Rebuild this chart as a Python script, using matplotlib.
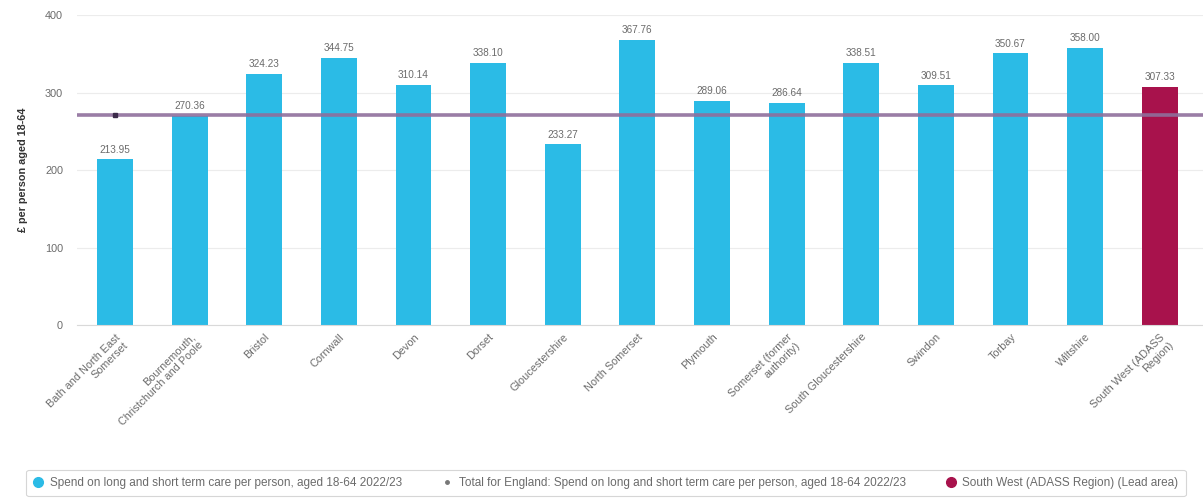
import matplotlib.pyplot as plt
import numpy as np

plt.rcParams['font.family'] = ['Liberation Sans', 'DejaVu Sans']

areas = ["Bath and North East\nSomerset", "Bournemouth,\nChristchurch and Poole", "Bristol",
         "Cornwall", "Devon", "Dorset", "Gloucestershire", "North Somerset", "Plymouth",
         "Somerset (former\nauthority)", "South Gloucestershire", "Swindon", "Torbay",
         "Wiltshire", "South West (ADASS\nRegion)"]
spend = [213.95, 270.36, 324.23, 344.75, 310.14, 338.10, 233.27, 367.76, 289.06,
         286.64, 338.51, 309.51, 350.67, 358.00, 307.33]
england_total = 270.6
lead_area = "South West (ADASS\nRegion)"

series_label = "Spend on long and short term care per person, aged 18-64 2022/23"
england_label = "Total for England: Spend on long and short term care per person, aged 18-64 2022/23"
lead_label = "South West (ADASS Region) (Lead area)"

blue = "#2bbbe6"
crimson = "#a8124c"
grey = "#6b6b6b"

fig = plt.figure(figsize=(12.03, 5.04), dpi=100)
ax = fig.add_axes([0.064, 0.355, 0.936, 0.615])

x = np.arange(len(areas))
colors = [crimson if a == lead_area else blue for a in areas]
bars = ax.bar(x, spend, width=0.48, color=colors, zorder=2)

for xi, v in zip(x, spend):
    ax.text(xi, v + 6, f"{v:.2f}", ha="center", va="bottom", fontsize=7.2, color=grey)

# England average drawn across the whole axis
ax.axhline(england_total, color="#8f6f9c", lw=2.6, alpha=0.9, zorder=3)
ax.plot([0], [england_total], marker="s", ms=2.5, color="#3b2a4a", zorder=4)

ax.set_ylim(0, 400)
ax.set_xlim(-0.51, 14.58)
ax.set_yticks([0, 100, 200, 300, 400])
ax.yaxis.grid(True, color="#ececec", lw=0.8)
ax.set_axisbelow(True)
for s in ["top", "right", "left"]:
    ax.spines[s].set_visible(False)
ax.spines["bottom"].set_color("#d9d9d9")
ax.tick_params(axis="y", length=0, labelsize=7.8, labelcolor=grey, pad=10)
ax.tick_params(axis="x", length=0, labelsize=7.8, labelcolor=grey, pad=5)
ax.set_xticks(x)
ax.set_xticklabels(areas, rotation=45, ha="right", rotation_mode="anchor")
ax.set_ylabel("£ per person aged 18-64", fontsize=7.8, fontweight="bold", color="#333333", labelpad=12)

# legend box along the bottom
handles = [
    plt.Line2D([], [], marker="o", ls="", color=blue, ms=7),
    plt.Line2D([], [], marker="o", ls="", color="#777777", ms=2.5),
    plt.Line2D([], [], marker="o", ls="", color=crimson, ms=7),
]
leg = fig.legend(handles, [series_label, england_label, lead_label], loc="lower center",
                 bbox_to_anchor=(606 / 1203, 0.004), ncol=3, fontsize=8.5, frameon=True,
                 handlelength=0.8, handletextpad=0.6, columnspacing=3.4,
                 borderpad=0.6, fancybox=True)
leg.get_frame().set_edgecolor("#cccccc")
leg.get_frame().set_linewidth(0.8)
for t in leg.get_texts():
    t.set_color(grey)

fig.savefig("out.png", dpi=100)
